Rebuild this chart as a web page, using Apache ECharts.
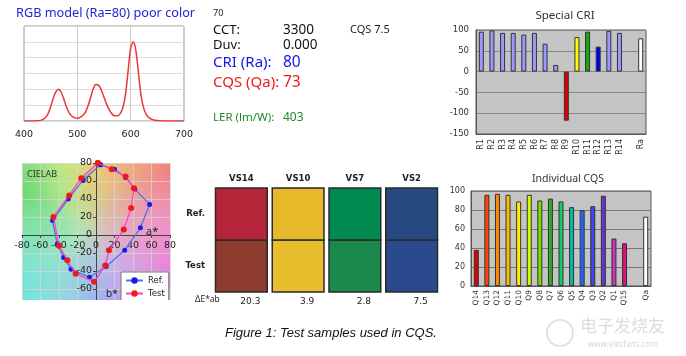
<!DOCTYPE html>
<html><head><meta charset="utf-8">
<script src="https://cdn.jsdelivr.net/npm/echarts@6/dist/echarts.min.js"></script>
<style>html,body{margin:0;padding:0;background:#fff}#c{width:686px;height:356px}</style>
</head><body><div id="c"></div>
<script>
// ---- Spectrum (RGB model) ----
const wavelengths = [400,405,410,415,420,425,430,435,440,445,450,455,460,465,470,475,480,485,490,495,500,505,510,515,520,525,530,535,540,545,550,555,560,565,570,575,580,585,590,595,600,605,610,615,620,625,630,635,640,645,650,655,660,665,670,675,680,685,690,695,700];
const spectrum = [0,0,0,0,0.002,0.004,0.008,0.018,0.04,0.09,0.18,0.29,0.37,0.40,0.36,0.27,0.17,0.10,0.06,0.04,0.035,0.045,0.07,0.11,0.19,0.30,0.41,0.46,0.45,0.39,0.30,0.21,0.14,0.09,0.065,0.065,0.09,0.16,0.32,0.62,0.92,1.0,0.88,0.58,0.30,0.15,0.075,0.04,0.02,0.01,0.005,0.003,0.001,0,0,0,0,0,0,0,0];

// ---- Special CRI ----
const criCategories = ['R1','R2','R3','R4','R5','R6','R7','R8','R9','R10','R11','R12','R13','R14','','Ra'];
const criValues = [96,99,93,93,89,93,67,16,-118,83,96,60,98,93,null,80];
const criColors = ['#9999ff','#9999ff','#9999ff','#9999ff','#9999ff','#9999ff','#9999ff','#9999ff','#dd0000','#ffff00','#11aa11','#0000ee','#9999ff','#9999ff','#ffffff','#ffffff'];

// ---- Individual CQS ----
const cqsCategories = ['Q14','Q13','Q12','Q11','Q10','Q9','Q8','Q7','Q6','Q5','Q4','Q3','Q2','Q1','Q15','','Qa'];
const cqsValues = [38,96,97,96,89,96,90,92,89,83,80,84,95,50,45,null,73];
const cqsColors = ['#dd0000','#ff4400','#ff8800','#ffbb00','#ffee00','#ccff00','#77dd00','#33aa22','#11cc66','#00bbaa','#2266ff','#4444ee','#6633cc','#cc33bb','#dd1177','#ffffff','#ffffff'];

// ---- CIELAB ----
const labRef = [[5,78],[20,73],[32,64],[42,51],[58,34],[48,8],[31,-17],[11,-35],[-7,-47],[-27,-38],[-35,-25],[-42,-10],[-47,16],[-30,40],[-14,61],[5,78]];
const labTest = [[2,80],[17,73],[32,65],[41,52],[38,30],[30,6],[14,-17],[10,-34],[-2,-52],[-22,-43],[-31,-28],[-40,-12],[-46,20],[-29,44],[-16,63],[2,80]];

// ---- Swatches ----
const swatchSamples = ['VS14','VS10','VS7','VS2'];
const swatchRows = ['Test','Ref.'];
const swatchRefColors = ['#b5253a','#e6b82a','#008a50','#264a80'];
const swatchTestColors = ['#8e3b30','#e8bd2e','#1a8a4c','#2b4a8e'];
const deltaE = ['20.3','3.9','2.8','7.5'];

const chart = echarts.init(document.getElementById('c'), null, {renderer:'canvas'});
const F = 'DejaVu Sans';
const NS = 'Noto Sans';

function radial(cx, cy, r, rgb, a) {
  return {type:'radial', x:cx, y:cy, r:r, colorStops:[{offset:0,color:'rgba('+rgb+','+a+')'},{offset:1,color:'rgba('+rgb+',0)'}]};
}
const labBox = {x:22, y:163, width:148, height:137};
const labLayers = [
  ['#f6f6ee'],
  [radial(-0.02,0.2,1.0,'100,215,100',0.95)],
  [radial(0.58,-0.08,0.6,'242,240,100',0.95)],
  [radial(1.05,0.05,0.85,'240,110,110',0.9)],
  [radial(1.05,0.8,0.8,'230,110,215',0.9)],
  [radial(0.55,1.1,0.6,'150,150,245',0.9)],
  [radial(-0.05,0.95,0.75,'100,225,220',0.95)]
];
const graphics = labLayers.map(l => ({type:'rect', z:-5, silent:true, shape:labBox, style:{fill:l[0]}}));

function txt(x, y, s, size, color, align) {
  return {type:'text', x:x, y:y, z:20, style:{text:s, fontSize:size, fill:color, fontFamily:NS, align:align||'left', textVerticalAlign:'middle'}};
}
graphics.push(
  {type:'rect', z:100, silent:true, shape:{x:10,y:300,width:170,height:20}, style:{fill:'#fff'}},
  txt(16, 13, 'RGB model (Ra=80) poor color', 12.7, '#2222dd'),
  txt(213, 13, '70', 9, '#222'),
  txt(213, 30, 'CCT:', 13, '#111'),
  txt(283, 30, '3300', 13.5, '#111'),
  txt(350, 30, 'CQS 7.5', 11, '#222'),
  txt(213, 45, 'Duv:', 13, '#111'),
  txt(283, 45, '0.000', 13.5, '#111'),
  txt(213, 63, 'CRI (Ra):', 15, '#1515ee'),
  txt(283, 63, '80', 15.5, '#1515ee'),
  txt(213, 83, 'CQS (Qa):', 15, '#ee1c1c'),
  txt(283, 83, '73', 15.5, '#ee1c1c'),
  txt(213, 118, 'LER (lm/W):', 11.5, '#22882a'),
  txt(283, 118, '403', 12, '#22882a'),
  txt(565, 16, 'Special CRI', 11.5, '#333', 'center'),
  txt(568, 179, 'Individual CQS', 10.5, '#333', 'center'),
  txt(27, 174, 'CIELAB', 9, '#333'),
  txt(146, 232, 'a*', 11, '#222'),
  txt(106, 294, 'b*', 10, '#222'),
  txt(195, 300, 'ΔE*ab', 8.5, '#222'),
  {type:'text', x:225, y:333, z:20, style:{text:'Figure 1: Test samples used in CQS.', fontSize:13, fontStyle:'italic', fill:'#111', fontFamily:'Liberation Sans', textVerticalAlign:'middle'}},
  {type:'circle', z:1, shape:{cx:560,cy:333,r:13}, style:{fill:'none', stroke:'#e2e2e2', lineWidth:2}},
  {type:'text', x:580, y:326, z:1, style:{text:'电子发烧友', fontSize:17, fill:'#dcdcdc', fontFamily:'Noto Sans CJK SC', textVerticalAlign:'middle'}},
  {type:'text', x:588, y:345, z:1, style:{text:'www.elecfans.com', fontSize:8, fill:'#d6d6d6', fontFamily:NS, textVerticalAlign:'middle'}}
);

const grids = [
  {left:24, top:26, width:160, height:95, show:true, borderColor:'#999', borderWidth:1, backgroundColor:'#fff'},
  {left:476, top:30, width:170, height:104, show:true, borderColor:'#555', borderWidth:1, backgroundColor:'#c4c4c4'},
  {left:22, top:163, width:148, height:144, show:false},
  {left:213, top:188, width:227, height:104, show:false},
  {left:471, top:191, width:180, height:95, show:true, borderColor:'#555', borderWidth:1, backgroundColor:'#c4c4c4'}
];

const xAxes = [
  {gridIndex:0, type:'value', min:400, max:700, interval:100, axisLine:{show:false}, axisTick:{show:false},
   splitLine:{lineStyle:{color:'#ccc'}}, axisLabel:{fontFamily:F, fontSize:9.5, color:'#222', margin:9}},
  {gridIndex:1, type:'category', data:criCategories, axisLine:{onZero:false, lineStyle:{color:'#555'}}, axisTick:{show:false},
   axisLabel:{rotate:90, interval:0, fontFamily:F, fontSize:8, color:'#333', margin:5}},
  {gridIndex:2, type:'value', min:-80, max:80, interval:20, offset:-72, axisLine:{onZero:false, lineStyle:{color:'#444'}}, axisTick:{show:true, length:3, lineStyle:{color:'#444'}},
   splitLine:{lineStyle:{color:'rgba(215,215,215,0.75)'}}, axisLabel:{fontFamily:F, fontSize:9.5, color:'#222', margin:6}},
  {gridIndex:3, type:'category', position:'top', data:swatchSamples, axisLine:{show:false}, axisTick:{show:false},
   axisLabel:{fontFamily:F, fontSize:8.5, fontWeight:'bold', color:'#222', margin:5}},
  {gridIndex:3, type:'category', position:'bottom', data:deltaE, axisLine:{show:false}, axisTick:{show:false},
   axisLabel:{fontFamily:F, fontSize:9, color:'#222', margin:5, padding:[0,0,0,18]}},
  {gridIndex:4, type:'category', data:cqsCategories, axisLine:{onZero:false, lineStyle:{color:'#555'}}, axisTick:{show:false},
   axisLabel:{rotate:90, interval:0, fontFamily:F, fontSize:7.5, color:'#333', margin:4}}
];
const yAxes = [
  {gridIndex:0, type:'value', min:0, max:1.2, interval:0.2, axisLabel:{show:false}, axisLine:{show:false}, axisTick:{show:false}, splitLine:{lineStyle:{color:'#ddd'}}},
  {gridIndex:1, type:'value', min:-150, max:100, interval:50, axisLine:{show:true, lineStyle:{color:'#555'}}, axisTick:{show:false},
   splitLine:{lineStyle:{color:'#888'}}, axisLabel:{fontFamily:F, fontSize:8.5, color:'#333', margin:7}},
  {gridIndex:2, type:'value', min:-80, max:80, interval:20, offset:-74, axisLine:{show:true, onZero:false, lineStyle:{color:'#444'}}, axisTick:{show:true, length:3, lineStyle:{color:'#444'}},
   splitLine:{lineStyle:{color:'rgba(215,215,215,0.75)'}}, axisLabel:{fontFamily:F, fontSize:9.5, color:'#222', margin:4}},
  {gridIndex:3, type:'category', data:swatchRows, axisLine:{show:false}, axisTick:{show:false},
   axisLabel:{fontFamily:F, fontSize:8.5, fontWeight:'bold', color:'#222', margin:8}},
  {gridIndex:4, type:'value', min:0, max:100, interval:20, axisLine:{show:true, lineStyle:{color:'#555'}}, axisTick:{show:false},
   splitLine:{lineStyle:{color:'#777'}}, axisLabel:{fontFamily:F, fontSize:8, color:'#333', margin:6}}
];

const swatchData = [];
swatchSamples.forEach((s, i) => {
  swatchData.push({value:[i, 0], itemStyle:{color:swatchTestColors[i]}});
  swatchData.push({value:[i, 1], itemStyle:{color:swatchRefColors[i]}});
});

const option = {
  animation:false,
  backgroundColor:'#fff',
  grid:grids, xAxis:xAxes, yAxis:yAxes,
  graphic:{elements:graphics},
  legend:{data:['Ref.','Test'], orient:'vertical', left:121, top:272, padding:[4,4,4,4], itemGap:4,
    itemWidth:17, itemHeight:8, backgroundColor:'#fff', borderColor:'#777', borderWidth:1, borderRadius:0,
    textStyle:{fontFamily:F, fontSize:8.5, color:'#222'}},
  series:[
    {type:'line', xAxisIndex:0, yAxisIndex:0, data:wavelengths.map((w,i)=>[w, spectrum[i]]), smooth:0.3, symbol:'none',
     lineStyle:{color:'#e8383a', width:1.5}},
    {type:'bar', xAxisIndex:1, yAxisIndex:1, barWidth:5,
     data:criValues.map((v,i)=>({value:v, itemStyle:{color:criColors[i]}})),
     itemStyle:{borderColor:'#333', borderWidth:1}},
    {type:'bar', xAxisIndex:5, yAxisIndex:4, barWidth:5,
     data:cqsValues.map((v,i)=>({value:v, itemStyle:{color:cqsColors[i]}})),
     itemStyle:{borderColor:'#333', borderWidth:1}},
    {name:'Ref.', type:'line', xAxisIndex:2, yAxisIndex:2, data:labRef, symbol:'circle', symbolSize:5,
     lineStyle:{color:'#4a78e8', width:1.3}, itemStyle:{color:'#1a1aee'}, z:5},
    {name:'Test', type:'line', xAxisIndex:2, yAxisIndex:2, data:labTest, symbol:'circle', symbolSize:6,
     lineStyle:{color:'#ff3fc8', width:1.3}, itemStyle:{color:'#ee1a1a'}, z:6},
    {type:'custom', xAxisIndex:3, yAxisIndex:3, data:swatchData, encode:{x:0, y:1},
     renderItem:function(params, api){
       const p = api.coord([api.value(0), api.value(1)]);
       const s = api.size([1, 1]);
       return {type:'rect', shape:{x:p[0]-s[0]/2+2.5, y:p[1]-s[1]/2, width:s[0]-5, height:s[1]},
         style:{fill:api.visual('color'), stroke:'#2a2a2a', lineWidth:1.5}};
     }}
  ]
};
chart.setOption(option);
</script></body></html>
